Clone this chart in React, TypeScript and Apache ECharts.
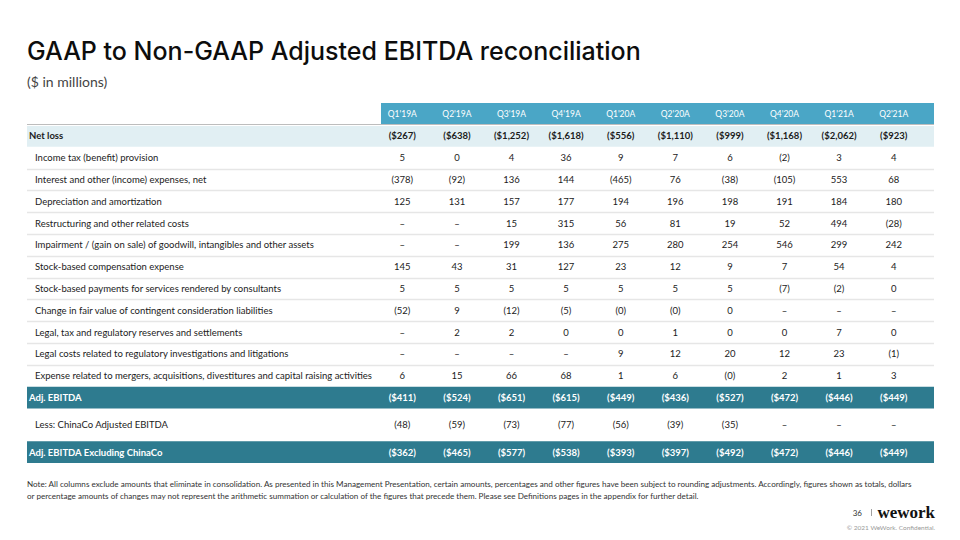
import React, { useEffect, useRef } from "react";
import * as echarts from "echarts";

// ---- data ----
const quarters = ["Q1'19A", "Q2'19A", "Q3'19A", "Q4'19A", "Q1'20A", "Q2'20A", "Q3'20A", "Q4'20A", "Q1'21A", "Q2'21A"];

const rowLabels = [
  "Net loss",
  "Income tax (benefit) provision",
  "Interest and other (income) expenses, net",
  "Depreciation and amortization",
  "Restructuring and other related costs",
  "Impairment / (gain on sale) of goodwill, intangibles and other assets",
  "Stock-based compensation expense",
  "Stock-based payments for services rendered by consultants",
  "Change in fair value of contingent consideration liabilities",
  "Legal, tax and regulatory reserves and settlements",
  "Legal costs related to regulatory investigations and litigations",
  "Expense related to mergers, acquisitions, divestitures and capital raising activities",
  "Adj. EBITDA",
  "Less: ChinaCo Adjusted EBITDA",
  "Adj. EBITDA Excluding ChinaCo",
];

// null = "–", -0 = "(0)"
const netLoss = [-267, -638, -1252, -1618, -556, -1110, -999, -1168, -2062, -923];
const incomeTax = [5, 0, 4, 36, 9, 7, 6, -2, 3, 4];
const interestOther = [-378, -92, 136, 144, -465, 76, -38, -105, 553, 68];
const depreciation = [125, 131, 157, 177, 194, 196, 198, 191, 184, 180];
const restructuring = [null, null, 15, 315, 56, 81, 19, 52, 494, -28];
const impairment = [null, null, 199, 136, 275, 280, 254, 546, 299, 242];
const stockComp = [145, 43, 31, 127, 23, 12, 9, 7, 54, 4];
const stockConsultants = [5, 5, 5, 5, 5, 5, 5, -7, -2, 0];
const contingent = [-52, 9, -12, -5, -0, -0, 0, null, null, null];
const legalReserves = [null, 2, 2, 0, 0, 1, 0, 0, 7, 0];
const legalCosts = [null, null, null, null, 9, 12, 20, 12, 23, -1];
const mergersExpense = [6, 15, 66, 68, 1, 6, -0, 2, 1, 3];
const adjEbitda = [-411, -524, -651, -615, -449, -436, -527, -472, -446, -449];
const chinaCo = [-48, -59, -73, -77, -56, -39, -35, null, null, null];
const adjEbitdaExChina = [-362, -465, -577, -538, -393, -397, -492, -472, -446, -449];

const rowValues = [
  netLoss, incomeTax, interestOther, depreciation, restructuring, impairment, stockComp,
  stockConsultants, contingent, legalReserves, legalCosts, mergersExpense, adjEbitda, chinaCo, adjEbitdaExChina,
];
// row kinds: "sub" = light highlighted bold, "total" = dark bar, "item" = indented line item
const rowKinds = ["sub", "item", "item", "item", "item", "item", "item", "item", "item", "item", "item", "item", "total", "spaced", "total"];

const FONT = "Lato";

function fmt(v: number | null, dollar: boolean): string {
  if (v === null) return "–";
  const neg = v < 0 || Object.is(v, -0);
  const s = Math.abs(v).toLocaleString("en-US");
  const body = (dollar ? "$" : "") + s;
  return neg ? "(" + body + ")" : body;
}

export default function App() {
  const ref = useRef<HTMLDivElement>(null);
  useEffect(() => {
    if (!ref.current) return;
    const chart = echarts.init(ref.current, null, { renderer: "svg" });

    const tableLeft = 27;
    const tableRight = 934;
    // cumulative row positions in row units
    const rowHeights = rowKinds.map((k) => (k === "spaced" ? 1.5 : 1));
    const rowTops: number[] = [];
    let acc = 0;
    rowHeights.forEach((h) => { rowTops.push(acc); acc += h; });
    const totalUnits = acc;

    const renderItem = (params: any, api: any) => {
      const i = api.value(0);
      const kind = rowKinds[i];
      const y0 = api.coord([0, rowTops[i]])[1];
      const y1 = api.coord([0, rowTops[i] + rowHeights[i]])[1];
      const cy = (y0 + y1) / 2;
      const children: any[] = [];
      const dollar = kind === "sub" || kind === "total";
      const bold = dollar;
      const color = kind === "total" ? "#ffffff" : "#1b1b1b";
      if (kind === "sub") {
        children.push({ type: "rect", shape: { x: tableLeft, y: y0 + 1, width: tableRight - tableLeft, height: y1 - y0 - 1 }, style: { fill: "#e1eff3" } });
      } else if (kind === "total") {
        children.push({ type: "rect", shape: { x: tableLeft, y: y0, width: tableRight - tableLeft, height: y1 - y0 }, style: { fill: "#2e7b8f" } });
      }
      if (kind === "item" && i < 11) {
        children.push({ type: "line", shape: { x1: tableLeft, y1: Math.round(y1) + 0.5, x2: tableRight, y2: Math.round(y1) + 0.5 }, style: { stroke: "#e6e6e6", lineWidth: 1.5 } });
      }
      children.push({
        type: "text",
        x: kind === "item" || kind === "spaced" ? tableLeft + 8 : tableLeft + 2,
        y: cy,
        style: { text: rowLabels[i], fill: color, font: `${bold ? "bold " : ""}9.5px ${FONT}`, textVerticalAlign: "middle", textAlign: "left" },
      });
      rowValues[i].forEach((v, j) => {
        const cx = api.coord([j, 0])[0];
        children.push({
          type: "text",
          x: cx,
          y: cy,
          style: { text: fmt(v, dollar), fill: color, font: `${bold ? "bold " : ""}9.5px ${FONT}`, textVerticalAlign: "middle", textAlign: "center" },
        });
      });
      return { type: "group", children };
    };

    chart.setOption({
      animation: false,
      grid: { left: 375, right: 39, top: 125, bottom: 77 },
      xAxis: {
        type: "category",
        data: quarters,
        position: "top",
        axisLine: { show: false },
        axisTick: { show: false },
        axisLabel: { color: "#ffffff", fontSize: 8.5, fontFamily: FONT, margin: 7 },
        z: 10,
      },
      yAxis: { type: "value", inverse: true, min: 0, max: totalUnits, show: false },
      graphic: [
        { type: "text", left: 27, top: 38, style: { text: "GAAP to Non-GAAP Adjusted EBITDA reconciliation", fill: "#0d0d0d", font: `500 25px Inter` } },
        { type: "text", left: 27, top: 74, style: { text: "($ in millions)", fill: "#444", font: `14px ${FONT}` } },
        { type: "rect", z: 0, shape: { x: 381, y: 103, width: 553, height: 21 }, style: { fill: "#4aa6c6" } },
        { type: "line", shape: { x1: 27, y1: 124.5, x2: 934, y2: 124.5 }, style: { stroke: "#bdbdbd", lineWidth: 1.2 } },
        { type: "text", left: 27, top: 480, style: { text: "Note: All columns exclude amounts that eliminate in consolidation. As presented in this Management Presentation, certain amounts, percentages and other figures have been subject to rounding adjustments. Accordingly, figures shown as totals, dollars", fill: "#333", font: `8.1px ${FONT}` } },
        { type: "text", left: 27, top: 492, style: { text: "or percentage amounts of changes may not represent the arithmetic summation or calculation of the figures that precede them. Please see Definitions pages in the appendix for further detail.", fill: "#333", font: `8.1px ${FONT}` } },
        { type: "text", x: 862, y: 513, style: { text: "36", fill: "#333", font: `8px ${FONT}`, textAlign: "right", textVerticalAlign: "middle" } },
        { type: "line", shape: { x1: 871.5, y1: 509, x2: 871.5, y2: 516 }, style: { stroke: "#888", lineWidth: 0.8 } },
        { type: "text", x: 935, y: 512, style: { text: "wework", fill: "#111", font: `bold 17px "Liberation Serif"`, textAlign: "right", textVerticalAlign: "middle" } },
        { type: "text", x: 935, y: 527, style: { text: "© 2021 WeWork. Confidential.", fill: "#999", font: `6.5px ${FONT}`, textAlign: "right", textVerticalAlign: "middle" } },
      ],
      series: [
        {
          type: "custom",
          renderItem,
          data: rowLabels.map((_, i) => [i]),
          encode: { x: -1, y: 0 },
          clip: false,
          z: 5,
        },
      ],
    });
    return () => chart.dispose();
  }, []);
  return <div ref={ref} style={{ width: 960, height: 540, position: "absolute", left: 0, top: 0, background: "#fff" }} />;
}
